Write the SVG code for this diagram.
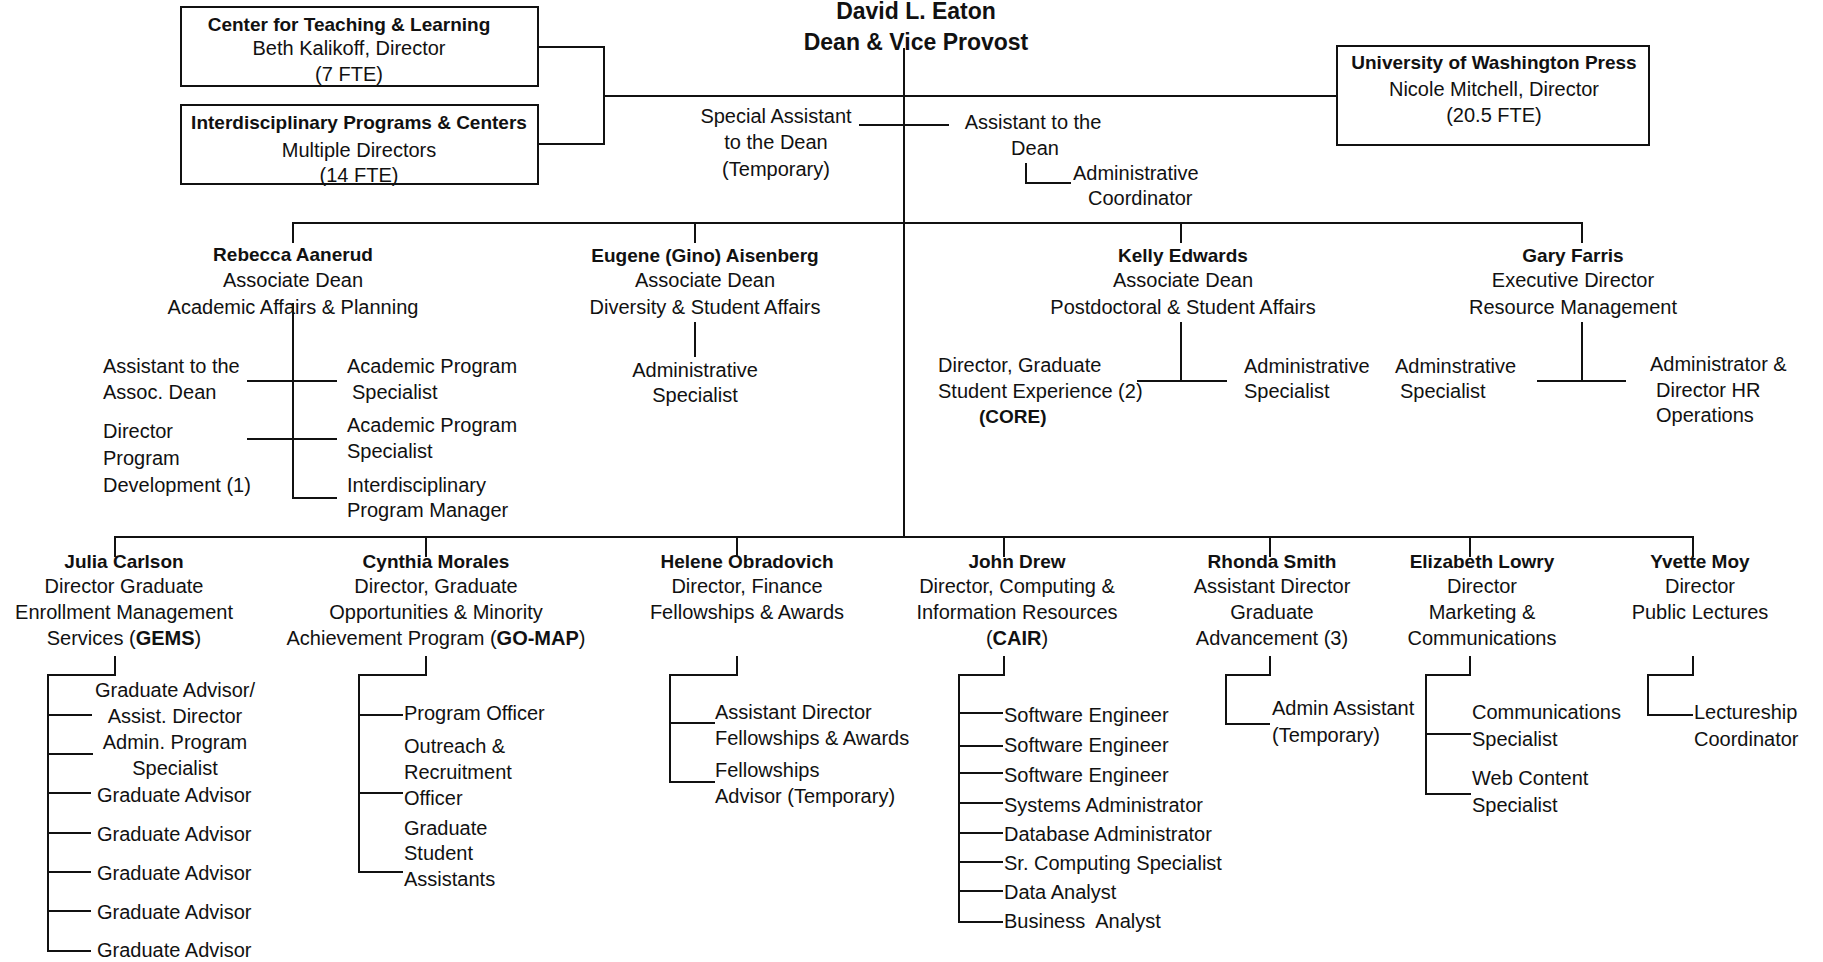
<svg xmlns="http://www.w3.org/2000/svg" width="1823" height="962" viewBox="0 0 1823 962">
<style>
text{font-family:"Liberation Sans",Arial,sans-serif;font-size:20px;fill:#111}
.b{font-weight:bold;font-size:19px}
.ttl{font-weight:bold;font-size:23px;text-anchor:middle}
.c{text-anchor:middle}
.ln{stroke:#111;stroke-width:2;fill:none}
.box{stroke:#111;stroke-width:2;fill:#fff}
</style>
<rect width="1823" height="962" fill="#fff"/>
<g id="connectors" class="ln">
<path d="M904 48V537"/>
<path d="M538 47H604V144H538M604 96H1337"/>
<path d="M859 125H949"/>
<path d="M1026 163V183H1071"/>
<path d="M293 243V223H1582V243M695 223V243M1181 223V243"/>
<path d="M293 303V498H337M247 381H337M247 439H337"/>
<path d="M695 322V357"/>
<path d="M1181 322V381M1137 381H1227"/>
<path d="M1582 322V381M1537 381H1626"/>
<path d="M115 557V537H1693V557M426 537V557M737 537V557M1004 537V557M1270 537V557M1470 537V557"/>
<path d="M115 656V675H48V951H91M48 715H92M48 754H93M48 793H91M48 833H91M48 872H91M48 911H91"/>
<path d="M426 656V675H359V872H403M359 715H403M359 793H403"/>
<path d="M737 656V675H670V782H715M670 723H715"/>
<path d="M1004 656V675H959V922H1003M959 713H1003M959 746H1003M959 773H1003M959 803H1003M959 833H1003M959 862H1003M959 891H1003"/>
<path d="M1270 656V675H1226V724H1270"/>
<path d="M1470 656V675H1426V794H1471M1426 734H1471"/>
<path d="M1693 656V675H1648V715H1693"/>
</g>
<g id="dean">
<text class="ttl" x="916" y="19">David L. Eaton</text>
<text class="ttl" x="916" y="50">Dean &amp; Vice Provost</text>
</g>
<g id="ctl">
<rect class="box" x="181" y="7" width="357" height="79"/>
<text class="b c" x="349" y="31">Center for Teaching &amp; Learning</text>
<text class="c" x="349" y="55">Beth Kalikoff, Director</text>
<text class="c" x="349" y="81">(7 FTE)</text>
</g>
<g id="ipc">
<rect class="box" x="181" y="105" width="357" height="79"/>
<text class="b c" x="359" y="129">Interdisciplinary Programs &amp; Centers</text>
<text class="c" x="359" y="157">Multiple Directors</text>
<text class="c" x="359" y="182">(14 FTE)</text>
</g>
<g id="uwpress">
<rect class="box" x="1337" y="46" width="312" height="99"/>
<text class="b c" x="1494" y="69">University of Washington Press</text>
<text class="c" x="1494" y="96">Nicole Mitchell, Director</text>
<text class="c" x="1494" y="122">(20.5 FTE)</text>
</g>
<g id="special-assistant">
<text class="c" x="776" y="123">Special Assistant</text>
<text class="c" x="776" y="149">to the Dean</text>
<text class="c" x="776" y="176">(Temporary)</text>
</g>
<g id="assistant-dean">
<text class="c" x="1033" y="129">Assistant to the</text>
<text class="c" x="1035" y="155">Dean</text>
</g>
<g id="admin-coordinator">
<text x="1073" y="180">Administrative</text>
<text x="1088" y="205">Coordinator</text>
</g>
<g id="aanerud">
<text class="b c" x="293" y="261">Rebecca Aanerud</text>
<text class="c" x="293" y="287">Associate Dean</text>
<text class="c" x="293" y="314">Academic Affairs &amp; Planning</text>
</g>
<g id="aanerud-staff">
<text x="103" y="373">Assistant to the</text>
<text x="103" y="399">Assoc. Dean</text>
<text x="103" y="438">Director</text>
<text x="103" y="465">Program</text>
<text x="103" y="492">Development (1)</text>
<text x="347" y="373">Academic Program</text>
<text x="352" y="399">Specialist</text>
<text x="347" y="432">Academic Program</text>
<text x="347" y="458">Specialist</text>
<text x="347" y="492">Interdisciplinary</text>
<text x="347" y="517">Program Manager</text>
</g>
<g id="aisenberg">
<text class="b c" x="705" y="262">Eugene (Gino) Aisenberg</text>
<text class="c" x="705" y="287">Associate Dean</text>
<text class="c" x="705" y="314">Diversity &amp; Student Affairs</text>
<text class="c" x="695" y="377">Administrative</text>
<text class="c" x="695" y="402">Specialist</text>
</g>
<g id="edwards">
<text class="b c" x="1183" y="262">Kelly Edwards</text>
<text class="c" x="1183" y="287">Associate Dean</text>
<text class="c" x="1183" y="314">Postdoctoral &amp; Student Affairs</text>
<text x="938" y="372">Director, Graduate</text>
<text x="938" y="398">Student Experience (2)</text>
<text class="b" x="979" y="423">(CORE)</text>
<text x="1244" y="373">Administrative</text>
<text x="1244" y="398">Specialist</text>
</g>
<g id="farris">
<text class="b c" x="1573" y="262">Gary Farris</text>
<text class="c" x="1573" y="287">Executive Director</text>
<text class="c" x="1573" y="314">Resource Management</text>
<text x="1395" y="373">Adminstrative</text>
<text x="1400" y="398">Specialist</text>
<text x="1650" y="371">Administrator &amp;</text>
<text x="1656" y="397">Director HR</text>
<text x="1656" y="422">Operations</text>
</g>
<g id="carlson">
<text class="b c" x="124" y="568">Julia Carlson</text>
<text class="c" x="124" y="593">Director Graduate</text>
<text class="c" x="124" y="619">Enrollment Management</text>
<text class="c" x="124" y="645">Services (<tspan font-weight="bold">GEMS</tspan>)</text>
<text class="c" x="175" y="697">Graduate Advisor/</text>
<text class="c" x="175" y="723">Assist. Director</text>
<text class="c" x="175" y="749">Admin. Program</text>
<text class="c" x="175" y="775">Specialist</text>
<text x="97" y="802">Graduate Advisor</text>
<text x="97" y="841">Graduate Advisor</text>
<text x="97" y="880">Graduate Advisor</text>
<text x="97" y="919">Graduate Advisor</text>
<text x="97" y="957">Graduate Advisor</text>
</g>
<g id="morales">
<text class="b c" x="436" y="568">Cynthia Morales</text>
<text class="c" x="436" y="593">Director, Graduate</text>
<text class="c" x="436" y="619">Opportunities &amp; Minority</text>
<text class="c" x="436" y="645">Achievement Program (<tspan font-weight="bold">GO-MAP</tspan>)</text>
<text x="404" y="720">Program Officer</text>
<text x="404" y="753">Outreach &amp;</text>
<text x="404" y="779">Recruitment</text>
<text x="404" y="805">Officer</text>
<text x="404" y="835">Graduate</text>
<text x="404" y="860">Student</text>
<text x="404" y="886">Assistants</text>
</g>
<g id="obradovich">
<text class="b c" x="747" y="568">Helene Obradovich</text>
<text class="c" x="747" y="593">Director, Finance</text>
<text class="c" x="747" y="619">Fellowships &amp; Awards</text>
<text x="715" y="719">Assistant Director</text>
<text x="715" y="745">Fellowships &amp; Awards</text>
<text x="715" y="777">Fellowships</text>
<text x="715" y="803">Advisor (Temporary)</text>
</g>
<g id="drew">
<text class="b c" x="1017" y="568">John Drew</text>
<text class="c" x="1017" y="593">Director, Computing &amp;</text>
<text class="c" x="1017" y="619">Information Resources</text>
<text class="c" x="1017" y="645">(<tspan font-weight="bold">CAIR</tspan>)</text>
<text x="1004" y="722">Software Engineer</text>
<text x="1004" y="752">Software Engineer</text>
<text x="1004" y="782">Software Engineer</text>
<text x="1004" y="812">Systems Administrator</text>
<text x="1004" y="841">Database Administrator</text>
<text x="1004" y="870">Sr. Computing Specialist</text>
<text x="1004" y="899">Data Analyst</text>
<text x="1004" y="928" xml:space="preserve">Business  Analyst</text>
</g>
<g id="smith">
<text class="b c" x="1272" y="568">Rhonda Smith</text>
<text class="c" x="1272" y="593">Assistant Director</text>
<text class="c" x="1272" y="619">Graduate</text>
<text class="c" x="1272" y="645">Advancement (3)</text>
<text x="1272" y="715">Admin Assistant</text>
<text x="1272" y="742">(Temporary)</text>
</g>
<g id="lowry">
<text class="b c" x="1482" y="568">Elizabeth Lowry</text>
<text class="c" x="1482" y="593">Director</text>
<text class="c" x="1482" y="619">Marketing &amp;</text>
<text class="c" x="1482" y="645">Communications</text>
<text x="1472" y="719">Communications</text>
<text x="1472" y="746">Specialist</text>
<text x="1472" y="785">Web Content</text>
<text x="1472" y="812">Specialist</text>
</g>
<g id="moy">
<text class="b c" x="1700" y="568">Yvette Moy</text>
<text class="c" x="1700" y="593">Director</text>
<text class="c" x="1700" y="619">Public Lectures</text>
<text x="1694" y="719">Lectureship</text>
<text x="1694" y="746">Coordinator</text>
</g>
</svg>
